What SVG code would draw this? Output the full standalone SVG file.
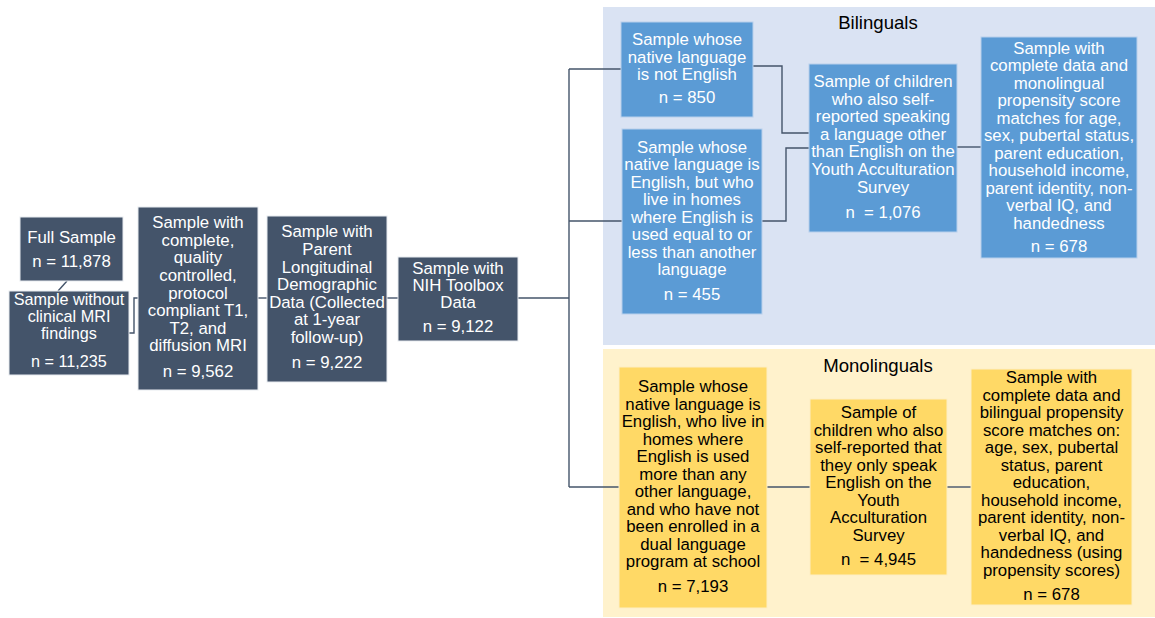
<svg xmlns="http://www.w3.org/2000/svg" width="1155" height="618" viewBox="0 0 1155 618">
<style>
text{font-family:"Liberation Sans",Arial,Helvetica,sans-serif;font-size:16.8px;text-anchor:middle}
.dark rect{fill:#44546A;stroke:#e8ebf0;stroke-width:1}
.dark text,.blue text{fill:#ffffff}
.blue rect{fill:#5B9BD5;stroke:#b8d0ec;stroke-width:1}
.yel rect{fill:#FFD966;stroke:#fdeec4;stroke-width:1}
.yel text{fill:#000000}
.title{font-size:18.6px;fill:#000000}
.conn path{fill:none;stroke:#44546A;stroke-width:1.4}
#n-nomri text{font-size:16.2px}
</style>
<rect width="1155" height="618" fill="#ffffff"/>
<g id="panel-bilinguals">
<rect x="603" y="7" width="552" height="338" fill="#DAE3F3"/>
<text class="title" x="878" y="29">Bilinguals</text>
</g>
<g id="panel-monolinguals">
<rect x="603" y="349" width="552" height="268" fill="#FFF2CC"/>
<text class="title" x="878" y="372">Monolinguals</text>
</g>
<g class="conn" id="connectors">
<path d="M67,281 L58,291"/>
<path d="M129,333 H134 V298 H138"/>
<path d="M258,298 H267"/>
<path d="M387,298 H398"/>
<path d="M518,298 H569"/>
<path d="M569,69 V487"/>
<path d="M569,69 H621"/>
<path d="M569,221 H622"/>
<path d="M569,487 H619"/>
<path d="M748,66 H782 V133 H809"/>
<path d="M762,221 H786 V148 H809"/>
<path d="M957,147 H981"/>
<path d="M767,487 H810"/>
<path d="M947,487 H971"/>
</g>
<g class="dark" id="n-full">
<rect x="20" y="217" width="103" height="64"/>
<text x="71.5" y="243">Full Sample</text>
<text x="71.5" y="267">n = 11,878</text>
</g>
<g class="dark" id="n-nomri">
<rect x="9" y="291" width="120" height="84"/>
<text x="69" y="305">Sample without</text>
<text x="69" y="321.8">clinical MRI</text>
<text x="69" y="338.6">findings</text>
<text x="69" y="367">n = 11,235</text>
</g>
<g class="dark" id="n-mri">
<rect x="138" y="207" width="120" height="183"/>
<text x="198" y="228">Sample with</text>
<text x="198" y="246">complete,</text>
<text x="198" y="263">quality</text>
<text x="198" y="281">controlled,</text>
<text x="198" y="298.5">protocol</text>
<text x="198" y="316">compliant T1,</text>
<text x="198" y="333.5">T2, and</text>
<text x="198" y="351">diffusion MRI</text>
<text x="198" y="377">n = 9,562</text>
</g>
<g class="dark" id="n-parent">
<rect x="267" y="216" width="120" height="166"/>
<text x="327" y="237">Sample with</text>
<text x="327" y="255">Parent</text>
<text x="327" y="272.5">Longitudinal</text>
<text x="327" y="290">Demographic</text>
<text x="327" y="307.5">Data (Collected</text>
<text x="327" y="325">at 1-year</text>
<text x="327" y="342.5">follow-up)</text>
<text x="327" y="368">n = 9,222</text>
</g>
<g class="dark" id="n-nih">
<rect x="398" y="257" width="120" height="84"/>
<text x="458" y="274">Sample with</text>
<text x="458" y="291">NIH Toolbox</text>
<text x="458" y="308">Data</text>
<text x="458" y="332">n = 9,122</text>
</g>
<g class="blue" id="b-native">
<rect x="621" y="22" width="132" height="95"/>
<text x="687" y="45">Sample whose</text>
<text x="687" y="63">native language</text>
<text x="687" y="80">is not English</text>
<text x="687" y="103">n = 850</text>
</g>
<g class="blue" id="b-equal">
<rect x="622" y="129" width="140" height="185"/>
<text x="692" y="152.5">Sample whose</text>
<text x="692" y="170">native language is</text>
<text x="692" y="187.5">English, but who</text>
<text x="692" y="205">live in homes</text>
<text x="692" y="222.5">where English is</text>
<text x="692" y="240">used equal to or</text>
<text x="692" y="257.5">less than another</text>
<text x="692" y="275">language</text>
<text x="692" y="300">n = 455</text>
</g>
<g class="blue" id="b-self">
<rect x="809" y="64" width="148" height="168"/>
<text x="883" y="87">Sample of children</text>
<text x="883" y="104.6">who also self-</text>
<text x="883" y="122.2">reported speaking</text>
<text x="883" y="139.8">a language other</text>
<text x="883" y="157.4">than English on the</text>
<text x="883" y="175">Youth Acculturation</text>
<text x="883" y="192.6">Survey</text>
<text x="883" y="218" xml:space="preserve">n  = 1,076</text>
</g>
<g class="blue" id="b-match">
<rect x="981" y="37" width="156" height="221"/>
<text x="1059" y="53.5">Sample with</text>
<text x="1059" y="71">complete data and</text>
<text x="1059" y="88.5">monolingual</text>
<text x="1059" y="106">propensity score</text>
<text x="1059" y="123.5">matches for age,</text>
<text x="1059" y="141">sex, pubertal status,</text>
<text x="1059" y="158.5">parent education,</text>
<text x="1059" y="176">household income,</text>
<text x="1059" y="193.5">parent identity, non-</text>
<text x="1059" y="211">verbal IQ, and</text>
<text x="1059" y="228.5">handedness</text>
<text x="1059" y="252">n = 678</text>
</g>
<g class="yel" id="m-native">
<rect x="619" y="367" width="148" height="241"/>
<text x="693" y="392">Sample whose</text>
<text x="693" y="409.5">native language is</text>
<text x="693" y="427">English, who live in</text>
<text x="693" y="444.5">homes where</text>
<text x="693" y="462">English is used</text>
<text x="693" y="479.5">more than any</text>
<text x="693" y="497">other language,</text>
<text x="693" y="514.5">and who have not</text>
<text x="693" y="532">been enrolled in a</text>
<text x="693" y="549.5">dual language</text>
<text x="693" y="567">program at school</text>
<text x="693" y="592">n = 7,193</text>
</g>
<g class="yel" id="m-self">
<rect x="810" y="399" width="137" height="176"/>
<text x="878.5" y="418">Sample of</text>
<text x="878.5" y="435.5">children who also</text>
<text x="878.5" y="453">self-reported that</text>
<text x="878.5" y="470.5">they only speak</text>
<text x="878.5" y="488">English on the</text>
<text x="878.5" y="505.5">Youth</text>
<text x="878.5" y="523">Acculturation</text>
<text x="878.5" y="540.5">Survey</text>
<text x="878.5" y="565" xml:space="preserve">n  = 4,945</text>
</g>
<g class="yel" id="m-match">
<rect x="971" y="369" width="161" height="236"/>
<text x="1051.5" y="383">Sample with</text>
<text x="1051.5" y="400.5">complete data and</text>
<text x="1051.5" y="418">bilingual propensity</text>
<text x="1051.5" y="435.5">score matches on:</text>
<text x="1051.5" y="453">age, sex, pubertal</text>
<text x="1051.5" y="470.5">status, parent</text>
<text x="1051.5" y="488">education,</text>
<text x="1051.5" y="505.5">household income,</text>
<text x="1051.5" y="523">parent identity, non-</text>
<text x="1051.5" y="540.5">verbal IQ, and</text>
<text x="1051.5" y="558">handedness (using</text>
<text x="1051.5" y="575.5">propensity scores)</text>
<text x="1051.5" y="600">n = 678</text>
</g>
</svg>
